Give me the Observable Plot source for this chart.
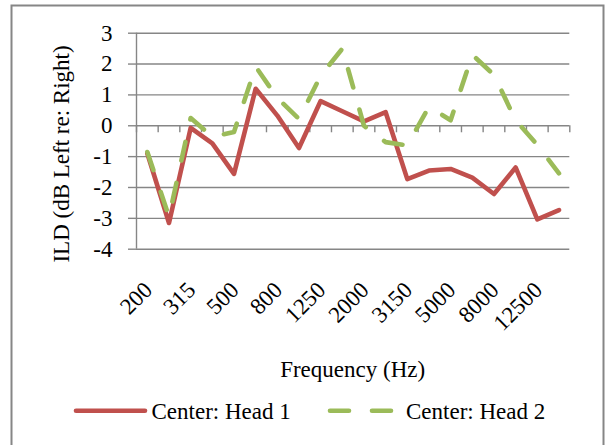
<!DOCTYPE html>
<html>
<head>
<meta charset="utf-8">
<script src="https://cdn.jsdelivr.net/npm/d3@7"></script>
<script src="https://cdn.jsdelivr.net/npm/@observablehq/plot@0.6"></script>
<style>
  html, body { margin: 0; padding: 0; background: #fff; }
  svg { display: block; }
  #chart svg text { font-family: "Liberation Serif", "Times New Roman", serif !important; font-size: 23px; fill: #000; }
</style>
</head>
<body>
<div id="chart"></div>
<script>
const frequencies = [200, 250, 315, 400, 500, 630, 800, 1000, 1250, 1600, 2000, 2500, 3150, 4000, 5000, 6300, 8000, 10000, 12500, 16000];
const tickLabels = ["200", "315", "500", "800", "1250", "2000", "3150", "5000", "8000", "12500"];
const head1 = [-0.9, -3.15, -0.07, -0.57, -1.56, 1.2, 0.33, -0.72, 0.8, 0.47, 0.14, 0.44, -1.73, -1.45, -1.4, -1.68, -2.21, -1.35, -3.03, -2.73];
const head2 = [-0.85, -2.95, 0.25, -0.36, -0.2, 1.92, 0.9, 0.22, 1.62, 2.5, 0.0, -0.53, -0.64, 0.62, 0.18, 2.3, 1.65, 0.18, -0.62, -1.54];
const yTicks = [-4, -3, -2, -1, 0, 1, 2, 3];
const seriesNames = ["Center: Head 1", "Center: Head 2"];

const W = 608, H = 445;
const mL = 136, mR = 38.7, mT = 32.7, mB = 196.3;
const FONT = "'Liberation Serif', 'Times New Roman', serif";
const FS = 23;
const GRID = "#868686";
const RED = "#C0504D", GREEN = "#9BBB59";
const pxPerUnit = (H - mT - mB) / (yTicks[yTicks.length - 1] - yTicks[0]);
const tickLen = 7 / pxPerUnit;

const bounds = d3.range(frequencies.length + 1);
const labelData = frequencies.map((f, i) => ({i, f})).filter(d => tickLabels.includes(String(d.f)));

const plot = Plot.plot({
  width: W,
  height: H,
  marginLeft: mL, marginRight: mR, marginTop: mT, marginBottom: mB,
  style: {fontFamily: FONT, fontSize: FS + "px", background: "#fff", color: "#000"},
  x: {domain: [0, frequencies.length], axis: null},
  y: {domain: [yTicks[0], yTicks[yTicks.length - 1]], axis: null},
  marks: [
    Plot.ruleY(yTicks, {stroke: GRID, strokeWidth: 1.4}),
    Plot.ruleX([0], {y1: yTicks[0], y2: yTicks[yTicks.length - 1], stroke: GRID, strokeWidth: 1.4}),
    Plot.axisY(yTicks, {tickSize: 8, tickPadding: 16, stroke: GRID, strokeWidth: 1.4, fill: "#000", fontSize: FS, label: null, tickFormat: d => String(d)}),
    Plot.ruleX(bounds, {x: d => d, y1: 0, y2: -tickLen, stroke: GRID, strokeWidth: 1.4}),
    Plot.text(labelData, {x: d => d.i + 0.5, y: yTicks[0], text: d => String(d.f), rotate: -45, textAnchor: "end", dy: 37, dx: 1, fontSize: FS, fill: "#000"}),
    Plot.line(head1, {x: (d, i) => i + 0.5, y: d => d, stroke: RED, strokeWidth: 4.6, strokeLinejoin: "round", strokeLinecap: "round"}),
    Plot.line(head2, {x: (d, i) => i + 0.5, y: d => d, stroke: GREEN, strokeWidth: 4.6, strokeLinejoin: "round", strokeLinecap: "round", strokeDasharray: "19,23"})
  ]
});

const svg = d3.select(plot);
svg.insert("rect", ":first-child")
  .attr("x", 11.5).attr("y", 5.5).attr("width", 592).attr("height", 460)
  .attr("fill", "#fff").attr("stroke", GRID).attr("stroke-width", 2);

svg.append("text")
  .attr("transform", "translate(69,154) rotate(-90)")
  .attr("text-anchor", "middle")
  .text("ILD (dB Left re: Right)");

svg.append("text")
  .attr("x", mL + (W - mL - mR) / 2).attr("y", 377)
  .attr("text-anchor", "middle")
  .text("Frequency (Hz)");

const leg = svg.append("g");
leg.append("line").attr("x1", 76).attr("x2", 145).attr("y1", 410.7).attr("y2", 410.7)
  .attr("stroke", RED).attr("stroke-width", 4.6).attr("stroke-linecap", "round");
leg.append("text").attr("x", 151.5).attr("y", 418.5).attr("text-anchor", "start")
  .text(seriesNames[0]);
leg.append("line").attr("x1", 330).attr("x2", 393).attr("y1", 410.7).attr("y2", 410.7)
  .attr("stroke", GREEN).attr("stroke-width", 4.6).attr("stroke-linecap", "round").attr("stroke-dasharray", "19,23");
leg.append("text").attr("x", 406).attr("y", 418.5).attr("text-anchor", "start")
  .text(seriesNames[1]);

document.getElementById("chart").appendChild(plot);
</script>
</body>
</html>
